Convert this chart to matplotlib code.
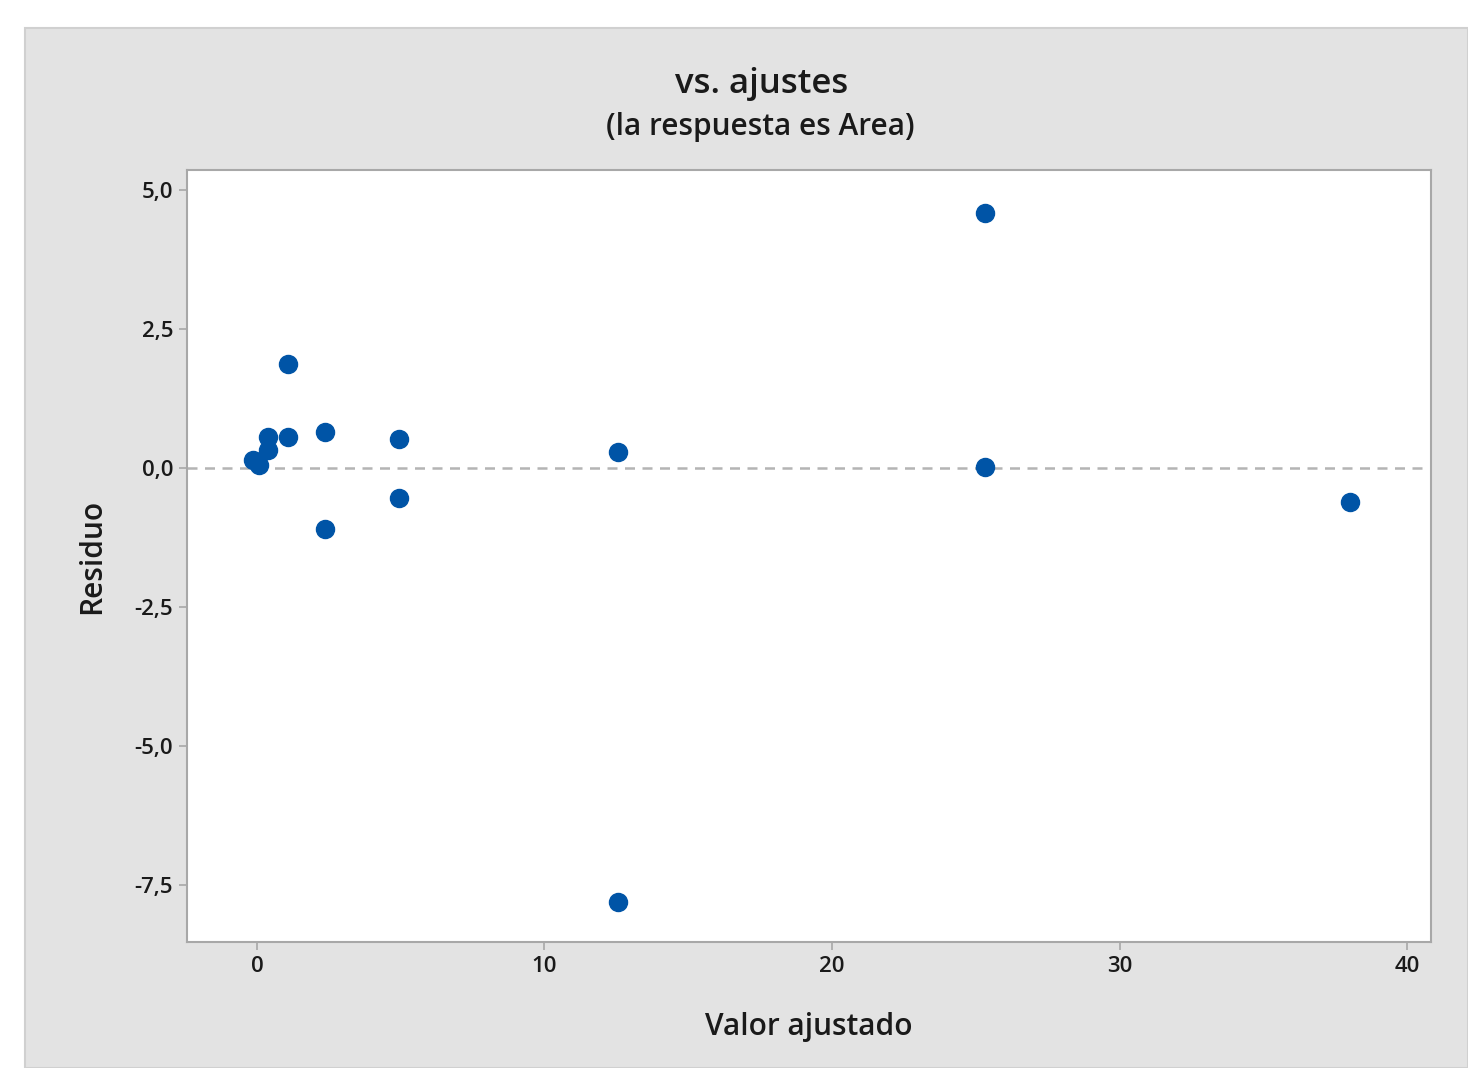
import matplotlib
matplotlib.use('Agg')
import matplotlib.pyplot as plt
import matplotlib.ticker as ticker
from matplotlib.patches import Rectangle

# valores ajustados y residuos
ajustados = [25.32, 1.08, 1.08, 2.37, 2.37, 4.94, 4.94, 12.56, 12.56, 25.32, 38.02,
             0.37, 0.37, -0.13, 0.08, 0.02]
residuos = [4.58, 1.87, 0.56, 0.65, -1.10, 0.52, -0.54, 0.29, -7.80, 0.02, -0.61,
            0.55, 0.33, 0.14, 0.05, 0.10]

xticks = [0, 10, 20, 30, 40]
yticks = [5.0, 2.5, 0.0, -2.5, -5.0, -7.5]

plt.rcParams['font.family'] = ['Open Sans', 'DejaVu Sans']
plt.rcParams['font.weight'] = 'semibold'
plt.rcParams['axes.labelweight'] = 'semibold'

W, H = 1468, 1068
fig = plt.figure(figsize=(W / 100, H / 100), dpi=100)
fig.patch.set_facecolor('white')

# panel gris de fondo
fig.patches.append(Rectangle((25 / W, 0), 1 - 25 / W, (H - 28) / H,
                             transform=fig.transFigure, facecolor='#e3e3e3',
                             edgecolor='#d0d0d0', linewidth=1.5, zorder=-10))

ax = fig.add_axes([187 / W, (H - 942) / H, (1431 - 187) / W, (942 - 170) / H])
ax.set_facecolor('white')

ax.axhline(0, color='#b4b4b4', linestyle=(0, (4, 3)), linewidth=1.8, zorder=1)
ax.plot(ajustados, residuos, 'o', color='#0054a6', markersize=13, zorder=3)

ax.set_xlim(-2.43, 40.83)
ax.set_ylim(-8.52, 5.355)
ax.set_xticks(xticks)
ax.set_yticks(yticks)
ax.xaxis.set_major_formatter(ticker.FuncFormatter(lambda v, p: f'{v:.0f}'))
ax.yaxis.set_major_formatter(ticker.FuncFormatter(lambda v, p: f'{v:.1f}'.replace('.', ',').replace('-0,0', '0,0')))

for s in ax.spines.values():
    s.set_color('#a8a8a8')
    s.set_linewidth(1.5)
ax.tick_params(direction='out', length=6, width=1.2, color='#a8a8a8',
               labelsize=16, labelcolor='#1a1a1a', pad=4)

ax.set_xlabel('Valor ajustado', fontsize=21.5, color='#1a1a1a', labelpad=25)
ax.set_ylabel('Residuo', fontsize=21.5, color='#1a1a1a', labelpad=20)

fig.text(762 / W, 1 - 84 / H, 'vs. ajustes', ha='center', va='center',
         fontsize=25, color='#1a1a1a')
fig.text(760 / W, 1 - 127 / H, '(la respuesta es Area)', ha='center', va='center',
         fontsize=21.5, color='#1a1a1a')

fig.savefig('out.png', dpi=100, facecolor=fig.get_facecolor())
